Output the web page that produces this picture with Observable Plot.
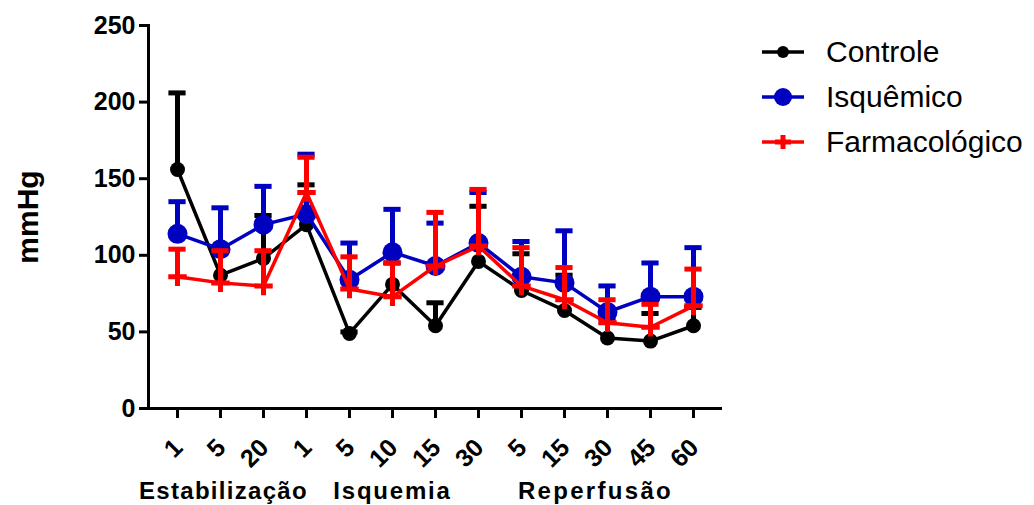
<!DOCTYPE html>
<html><head><meta charset="utf-8">
<script src="https://cdn.jsdelivr.net/npm/d3@7"></script>
<script src="https://cdn.jsdelivr.net/npm/@observablehq/plot@0.6"></script>
<style>
body{margin:0;background:#fff;font-family:"Liberation Sans",Arial,sans-serif;}
#wrap{position:relative;width:1034px;height:505px;overflow:hidden;}
#legend{position:absolute;left:760px;top:29px;}
.item{display:flex;align-items:center;height:45px;font-size:30px;color:#000;}
.item svg{margin-right:20px;}
</style></head><body><div id="wrap"><div id="legend"></div></div>
<script>
const keys = ["E1","E5","E20","I1","I5","I10","I15","I30","R5","R15","R30","R45","R60"];
const tickLabels = ["1","5","20","1","5","10","15","30","5","15","30","45","60"];
const groups = ["Estabilização","Isquemia","Reperfusão"];
const seriesNames = ["Controle","Isquêmico","Farmacológico"];
const controleMean  = [156, 87, 98,120, 49, 81, 54, 96, 77, 64, 46, 44, 54];
const controleUpper = [206,102,126,146, 50, 95, 69,132,101, 87, 59, 62, 66];
const isquemicoMean  = [114,104,120,127, 84,102, 93,108, 86, 82, 63, 73, 73];
const isquemicoUpper = [135,131,145,166,108,130,121,141,109,116, 80, 95,105];
const farmacoMean  = [ 86, 82, 80,141, 78, 73, 93,106, 80, 71, 56, 53, 67];
const farmacoUpper = [104,103,103,164, 99, 95,128,143,105, 92, 71, 68, 91];
const yTicks = [0,50,100,150,200,250];

const colors = {"Controle":"#000000","Isquêmico":"#0000C0","Farmacológico":"#FF0000"};
const meanArrays = [controleMean, isquemicoMean, farmacoMean];
const upperArrays = [controleUpper, isquemicoUpper, farmacoUpper];
const rows = [];
seriesNames.forEach((s, si) => keys.forEach((k, i) =>
  rows.push({series: s, key: k, mean: meanArrays[si][i], upper: upperArrays[si][i]})));
const labelOf = Object.fromEntries(keys.map((k, i) => [k, tickLabels[i]]));

const capInset = 11.4;
const marks = [
  Plot.ruleY([0], {strokeWidth: 3}),
  Plot.frame({anchor: "left", strokeWidth: 3}),
  Plot.axisY({ticks: yTicks, tickSize: 9, tickPadding: 4, strokeWidth: 3, fontSize: 25, fontWeight: "bold", label: null}),
  Plot.axisX({tickSize: 10, strokeWidth: 3, tickFormat: () => "", label: null}),
  Plot.text(keys, {x: d => d, text: d => labelOf[d], frameAnchor: "bottom", dy: 35, dx: 1, rotate: -45,
    textAnchor: "end", lineAnchor: "middle", fontSize: 25, fontWeight: "bold"}),
  Plot.text([groups[0]], {x: () => "E5", frameAnchor: "bottom", dy: 90, dx: 3, textAnchor: "middle", lineAnchor: "bottom", fontSize: 24, fontWeight: "bold", text: d => d}),
  Plot.text([groups[1]], {x: () => "I10", frameAnchor: "bottom", dy: 90, dx: 0, textAnchor: "middle", lineAnchor: "bottom", fontSize: 24, fontWeight: "bold", text: d => d}),
  Plot.text([groups[2]], {x: () => "R30", frameAnchor: "bottom", dy: 90, dx: -12, textAnchor: "middle", lineAnchor: "bottom", fontSize: 24, fontWeight: "bold", text: d => d}),
  Plot.text(["mmHg"], {frameAnchor: "left", dx: -120, rotate: -90, textAnchor: "middle", lineAnchor: "middle", fontSize: 30, fontWeight: "bold", text: d => d})
];
seriesNames.forEach(s => {
  const d = rows.filter(r => r.series === s);
  const c = colors[s];
  marks.push(Plot.ruleX(d, {x: "key", y1: "mean", y2: "upper", stroke: c, strokeWidth: 5}));
  marks.push(Plot.tickY(d, {x: "key", y: "upper", stroke: c, strokeWidth: 5, insetLeft: capInset, insetRight: capInset}));
  marks.push(Plot.line(d, {x: "key", y: "mean", stroke: c, strokeWidth: 3.5}));
  if (s === "Controle") marks.push(Plot.dot(d, {x: "key", y: "mean", r: 7.5, fill: c, stroke: "none"}));
  else if (s === "Isquêmico") marks.push(Plot.dot(d, {x: "key", y: "mean", r: 10, fill: c, stroke: "none"}));
  else marks.push(Plot.dot(d, {x: "key", y: "mean", r: 6, symbol: "plus", stroke: c, strokeWidth: 5}));
});

const chart = Plot.plot({
  width: 1034, height: 505,
  marginLeft: 148, marginRight: 312, marginTop: 25, marginBottom: 97,
  style: {fontFamily: '"Liberation Sans", Arial, sans-serif', color: "#000", background: "#fff"},
  x: {type: "band", domain: keys, padding: 0.07, axis: null},
  y: {domain: [0, 250], axis: null},
  marks
});
d3.select(chart).selectAll("text").each(function() {
  const t = this.textContent;
  if (t === groups[0]) this.style.letterSpacing = "1.3px";
  if (t === groups[1]) this.style.letterSpacing = "1.8px";
  if (t === groups[2]) this.style.letterSpacing = "2.3px";
});
const wrap = document.getElementById("wrap");
wrap.insertBefore(chart, wrap.firstChild);

const legend = d3.select("#legend");
seriesNames.forEach(s => {
  const c = colors[s];
  const item = legend.append("div").attr("class", "item");
  const sw = item.append("svg").attr("width", 46).attr("height", 24);
  sw.append("line").attr("x1", 2).attr("x2", 44).attr("y1", 12).attr("y2", 12).attr("stroke", c).attr("stroke-width", 3.5);
  if (s === "Controle") sw.append("circle").attr("cx", 23).attr("cy", 12).attr("r", 6).attr("fill", c);
  else if (s === "Isquêmico") sw.append("circle").attr("cx", 23).attr("cy", 12).attr("r", 9).attr("fill", c);
  else {
    sw.append("line").attr("x1", 15).attr("x2", 31).attr("y1", 12).attr("y2", 12).attr("stroke", c).attr("stroke-width", 5);
    sw.append("line").attr("x1", 23).attr("x2", 23).attr("y1", 5).attr("y2", 19).attr("stroke", c).attr("stroke-width", 5);
  }
  item.append("span").text(s);
});
</script></body></html>
